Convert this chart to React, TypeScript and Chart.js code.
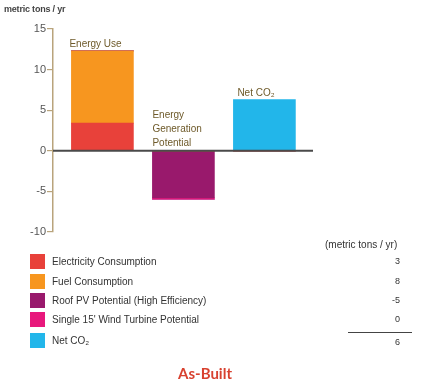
import React, { useEffect, useRef } from "react";
import { Chart, registerables } from "chart.js";

Chart.register(...registerables);

// ---- data ----
const categories = ["Energy Use", "Energy Generation Potential", "Net CO₂"];
const categoryLabelLines = [["Energy Use"], ["Energy", "Generation", "Potential"], ["Net CO₂"]];
const seriesNames = [
  "Electricity Consumption",
  "Fuel Consumption",
  "Roof PV Potential (High Efficiency)",
  "Single 15' Wind Turbine Potential",
  "Net CO₂",
];
const electricity = [3.4, 0, 0];
const fuel = [8.9, 0, 0];
const roofPV = [0, -5.8, 0];
const wind = [0, -0.2, 0];
const netCO2 = [0, 0, 6.3];
const tableValues = ["3", "8", "-5", "0"];
const tableTotal = "6";
const yTicks = [-10, -5, 0, 5, 10, 15];
const colors = ["#e8413a", "#f7961f", "#99196c", "#e8187c", "#22b6ea"];

const seriesValues = [electricity, fuel, roofPV, wind, netCO2];

export default function App() {
  const ref = useRef<HTMLCanvasElement | null>(null);

  useEffect(() => {
    if (!ref.current) return;
    const labelPlugin = {
      id: "annot",
      afterDatasetsDraw(chart: any) {
        const { ctx, chartArea, scales } = chart;
        const y0 = scales.y.getPixelForValue(0);
        ctx.save();
        ctx.strokeStyle = "#4a4a4a";
        ctx.lineWidth = 2;
        ctx.beginPath();
        ctx.moveTo(chartArea.left, y0);
        ctx.lineTo(chartArea.right, y0);
        ctx.stroke();
        ctx.fillStyle = "#6e5a2a";
        ctx.font = "10px 'Liberation Sans', Arial, sans-serif";
        ctx.textBaseline = "middle";
        ctx.textAlign = "left";
        const meta0 = chart.getDatasetMeta(1).data[0];
        const meta1 = chart.getDatasetMeta(2).data[1];
        const meta2 = chart.getDatasetMeta(4).data[2];
        const b0 = meta0.getProps(["x", "y", "width"], true);
        ctx.fillText(categoryLabelLines[0][0], b0.x - b0.width / 2 - 2, b0.y - 7);
        const b1 = meta1.getProps(["x", "y", "width"], true);
        const lines = categoryLabelLines[1];
        lines.forEach((t, i) => {
          ctx.fillText(t, b1.x - b1.width / 2, y0 - 8 - (lines.length - 1 - i) * 14);
        });
        const b2 = meta2.getProps(["x", "y", "width"], true);
        ctx.fillText(categoryLabelLines[2][0], b2.x - b2.width / 2 + 4, b2.y - 6);
        ctx.restore();
      },
    };

    const chart = new Chart(ref.current, {
      type: "bar",
      data: {
        labels: categories,
        datasets: seriesNames.map((name, i) => ({
          label: name,
          data: seriesValues[i].map((v, j) => ({ x: j + 1, y: v })),
          backgroundColor: colors[i],
          borderWidth: 0,
          barThickness: 62,
        })),
      },
      options: {
        animation: false,
        responsive: false,
        maintainAspectRatio: false,
        layout: { padding: { top: 29, bottom: 153, left: 0, right: 117 } },
        plugins: { legend: { display: false }, tooltip: { enabled: false } },
        scales: {
          x: {
            type: "linear",
            stacked: true,
            offset: false,
            grid: { offset: false },
            min: 0.39,
            max: 3.6,
            display: false,
          },
          y: {
            stacked: true,
            min: -10,
            max: 15,
            afterFit(scale: any) {
              scale.width = 53;
            },
            afterBuildTicks(scale: any) {
              scale.ticks = yTicks.map((v) => ({ value: v }));
            },
            border: { display: true, color: "#b9a47c", width: 1.5 },
            grid: {
              drawOnChartArea: false,
              drawTicks: true,
              tickLength: 6,
              color: "#b9a47c",
              lineWidth: 1.2,
            },
            ticks: {
              color: "#555555",
              padding: 1,
              font: { size: 11, family: "'Liberation Sans', Arial, sans-serif" },
            },
          },
        },
      },
      plugins: [labelPlugin],
    });
    return () => chart.destroy();
  }, []);

  const font = "'Liberation Sans', Arial, sans-serif";
  const rowTops = [254, 274, 293, 312, 333];

  return (
    <div style={{ position: "fixed", left: 0, top: 0, width: 430, height: 385, background: "#fff", fontFamily: font }}>
      <canvas ref={ref} width={430} height={385} style={{ position: "absolute", left: 0, top: 0 }} />
      <div style={{ position: "absolute", left: 4, top: 4, fontSize: 9, color: "#444", fontWeight: "bold", letterSpacing: -0.2 }}>
        metric tons / yr
      </div>
      {seriesNames.map((n, i) => (
        <div key={n} style={{ position: "absolute", left: 30, top: rowTops[i], height: 15, display: "flex", alignItems: "center" }}>
          <div style={{ width: 15, height: 15, background: colors[i] }} />
          <span style={{ marginLeft: 7, fontSize: 10, color: "#333" }}>{n}</span>
        </div>
      ))}
      <div style={{ position: "absolute", left: 325, top: 239, fontSize: 10, color: "#333" }}>(metric tons / yr)</div>
      {tableValues.map((v, i) => (
        <div key={i} style={{ position: "absolute", right: 30, top: rowTops[i], height: 15, lineHeight: "15px", fontSize: 9, color: "#333" }}>
          {v}
        </div>
      ))}
      <div style={{ position: "absolute", left: 348, width: 64, top: 332, borderTop: "1.5px solid #444" }} />
      <div style={{ position: "absolute", right: 30, top: rowTops[4] + 2, height: 15, lineHeight: "15px", fontSize: 9, color: "#333" }}>
        {tableTotal}
      </div>
      <div style={{ position: "absolute", left: 0, width: 410, top: 364, textAlign: "center", fontSize: 15, fontWeight: "bold", color: "#d8412f", fontFamily: "Lato, 'Open Sans', sans-serif" }}>
        As-Built
      </div>
    </div>
  );
}
